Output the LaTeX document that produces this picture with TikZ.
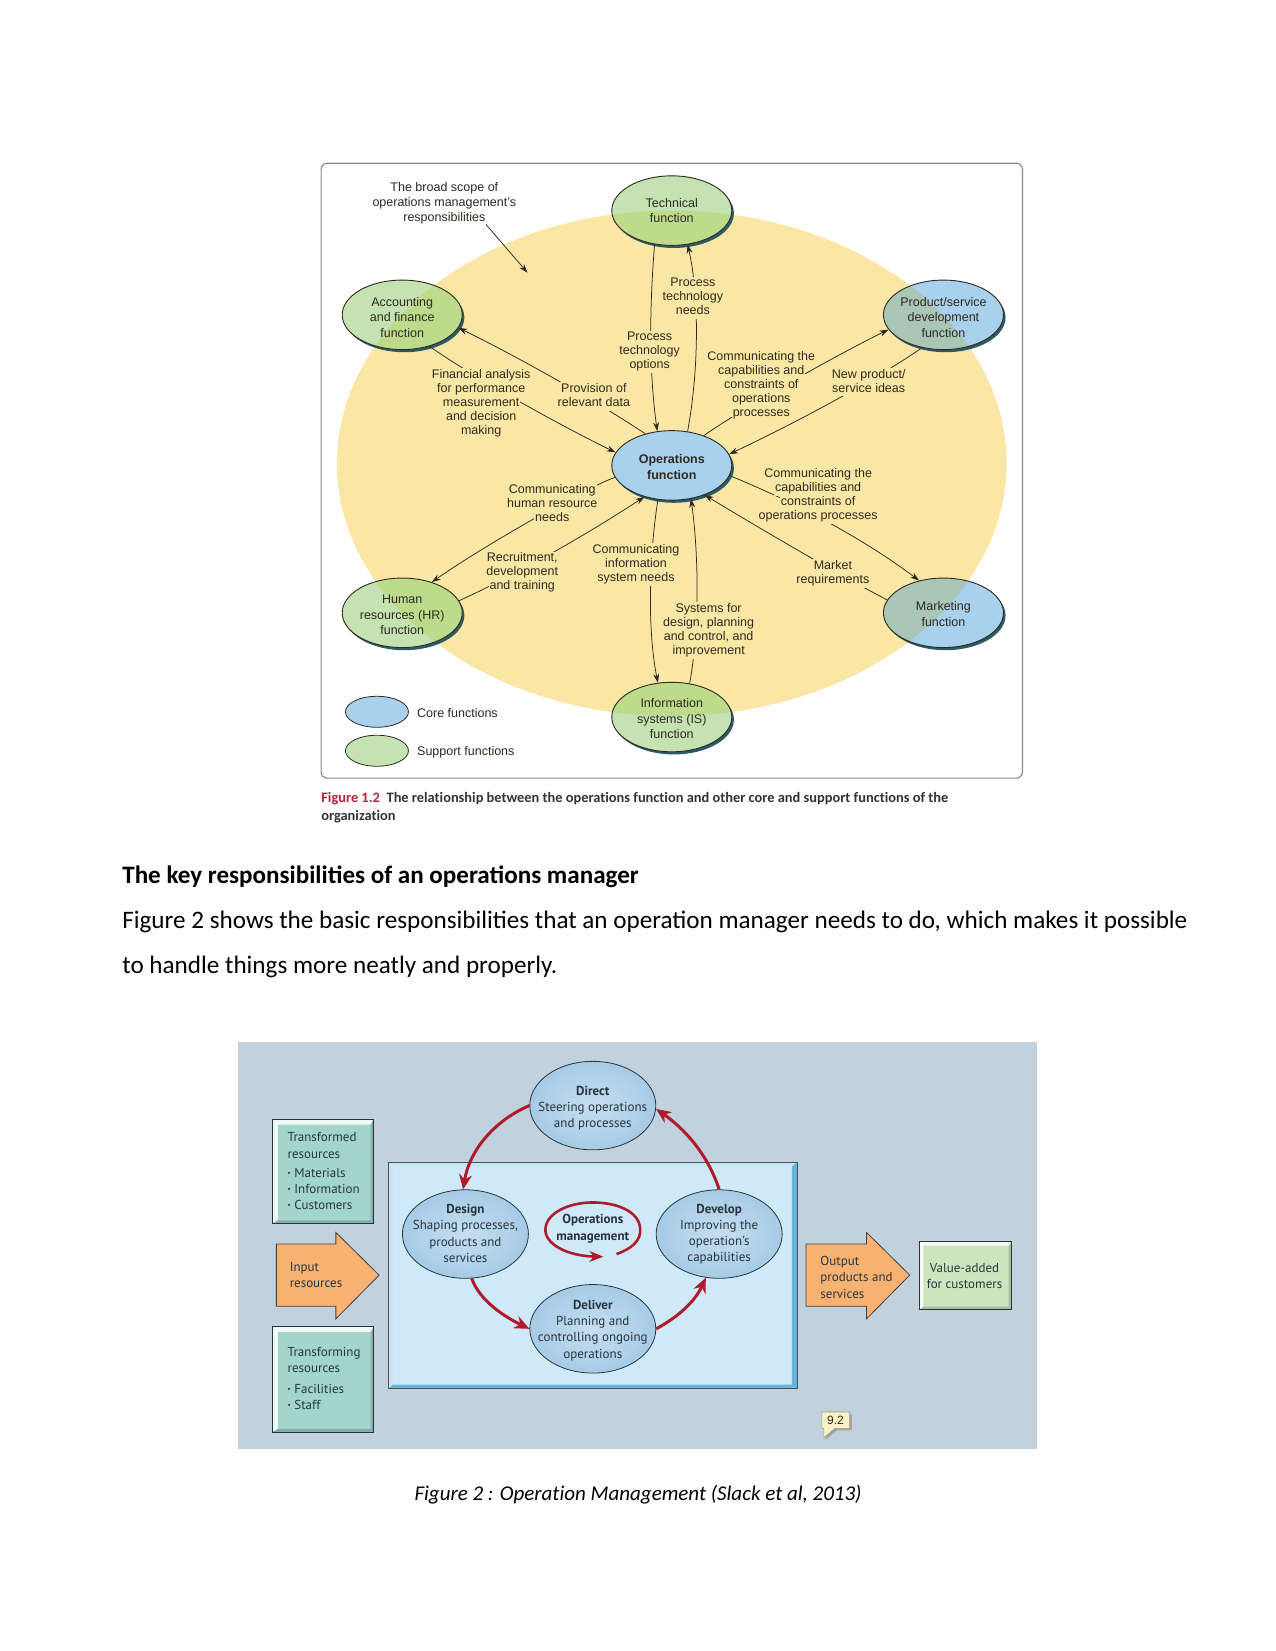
\documentclass[tikz,border=0pt]{standalone}
\usepackage{fontspec}
\setmainfont{Carlito}
\newfontfamily\helv{Liberation Sans}
\newfontfamily\myr{PT Sans}
\newfontfamily\capfont[Ligatures=NoCommon]{Carlito}
\usetikzlibrary{shapes.geometric,arrows.meta}
\definecolor{sunny}{HTML}{FBE7A5}
\definecolor{ink}{HTML}{2E2A20}
\definecolor{rimdark}{HTML}{2C5A66}
\definecolor{coreblue}{HTML}{A9D0EC}
\definecolor{coregrey}{HTML}{A9C6B6}
\definecolor{suppgreen}{HTML}{C5E2B2}
\definecolor{suppyellow}{HTML}{BEDB8C}
\definecolor{panel}{HTML}{C1D2DE}
\definecolor{sheet}{HTML}{D0E9F9}
\definecolor{sheetedge}{HTML}{65B6D9}
\definecolor{seafoam}{HTML}{A3D6CB}
\definecolor{mint}{HTML}{CDE6BE}
\definecolor{amber}{HTML}{FAB273}
\definecolor{crimson}{HTML}{AE1B2C}
\definecolor{slate}{HTML}{26343E}
\definecolor{capred}{HTML}{B5263A}
\definecolor{ovalin}{HTML}{C6DEF0}
\definecolor{ovalout}{HTML}{A6CBE5}
\definecolor{tagfill}{HTML}{FBF3C8}
\setlength{\fboxsep}{1pt}
% one label line on its own yellow strip, so connectors stop close to the words
\newcommand{\tl}[1]{\colorbox{sunny}{\rule[-3.4pt]{0pt}{12.2pt}#1}}
% lets the strips of neighbouring lines overlap a little
\newcommand{\tightlines}{\lineskiplimit=-2pt\relax}
\tikzset{
  funcoval/.style={ellipse,draw=ink,line width=.9pt,minimum width=120pt,minimum height=69.5pt,inner sep=0pt},
  funcname/.style={font=\helv\fontsize{12.5}{15.6}\selectfont,align=center,text=ink,inner sep=0pt},
  flowlabel/.style={font=\helv\fontsize{12.5}{14}\selectfont\tightlines,align=center,text=ink,inner sep=0pt},
  plainlabel/.style={font=\helv\fontsize{12.5}{15.2}\selectfont,align=center,text=ink,inner sep=0pt},
  link/.style={ink,line width=.75pt,-{Stealth[length=9pt,width=6pt]}},
  workoval/.style={ellipse,draw=slate,line width=.8pt,minimum width=126pt,minimum height=88.5pt,inner sep=0pt,
    inner color=ovalin,outer color=ovalout},
  worktext/.style={font=\myr\fontsize{13}{16.2}\selectfont,align=center,text=slate,inner sep=0pt},
  boxtext/.style={font=\myr\fontsize{13}{16.2}\selectfont,align=left,text=slate,inner sep=0pt,anchor=north west},
  redflow/.style={crimson,line width=3pt,-{Stealth[length=15pt,width=13pt]}},
  blockarrow/.style={fill=amber,draw=black!75,line width=.8pt,line join=miter},
}
% two-tone function oval: tint outside and inside the yellow field
\newcommand{\funcblob}[7]{%
  \fill[rimdark] (#2+2,#3+2.5) ellipse [x radius=57,y radius=33];
  \fill[#4] (#2,#3) ellipse [x radius=57,y radius=33];
  \begin{scope}
    \clip (638,440) ellipse [x radius=318,y radius=240];
    \fill[#5] (#2,#3) ellipse [x radius=57,y radius=33];
  \end{scope}
  \node[funcoval] (#1) at (#2,#3) {};
  \node[funcname] (#1t) at (#2,#3+#7) {#6};
}
% bevelled rectangle: corners, face, light edge, edge width
\newcommand{\bevelbox}[7]{%
  \fill[#5] (#1,#2) rectangle (#3,#4);
  \fill[#6] (#1,#2) -- (#3,#2) -- (#3-3,#2+#7) -- (#1+#7,#2+#7) -- (#1+#7,#4-3) -- (#1,#4) -- cycle;
  \fill[#5!82!black] (#3,#2) -- (#3,#4) -- (#1,#4) -- (#1+#7,#4-3) -- (#3-3,#4-3) -- (#3-3,#2+#7) -- cycle;
  \draw[slate,line width=.9pt] (#1,#2) rectangle (#3,#4);
}
\begin{document}
\begin{tikzpicture}[x=1.05285pt,y=-1.05285pt]
\useasboundingbox (0,0) rectangle (1211,1568);
\fill[white] (0,0) rectangle (1211,1568);

% upper figure: frame and yellow field
\draw[black!45,line width=1.2pt,rounded corners=6pt,fill=white] (305,155) rectangle (971,739);
\fill[sunny] (638,440) ellipse [x radius=318,y radius=240];

\funcblob{tech}{638}{200}{suppgreen}{suppyellow}{Technical\\function}{0}
\funcblob{acct}{382}{299}{suppgreen}{suppyellow}{Accounting\\and finance\\function}{2.5}
\funcblob{prod}{896}{299}{coreblue}{coregrey}{Product/service\\development\\function}{2.5}
\funcblob{hr}{382}{582}{suppgreen}{suppyellow}{Human\\resources (HR)\\function}{2}
\funcblob{mkt}{896}{582}{coreblue}{coregrey}{Marketing\\function}{1}
\funcblob{info}{638}{681}{suppgreen}{suppyellow}{Information\\systems (IS)\\function}{1.5}
\fill[rimdark] (640,444.5) ellipse [x radius=57,y radius=33];
\node[funcoval,fill=coreblue] (ops) at (638,442) {};
\node[funcname,font=\helv\bfseries\fontsize{12.5}{15.6}\selectfont] (opst) at (638,443.5) {Operations\\function};

% connectors, running behind their labels
\draw[link] (tech.243) .. controls (617,290) and (616,350) .. (ops.113);
\draw[link] (ops.65) .. controls (664,350) and (664,280) .. (tech.295);
\draw[link] (acct.-49) .. controls (440,352) and (520,398) .. (ops.167);
\draw[link] (ops.130) .. controls (565,380) and (490,338) .. (acct.-13);
\draw[link] (ops.43) .. controls (695,395) and (775,347) .. (prod.195);
\draw[link] (prod.237) .. controls (850,348) and (790,385) .. (ops.11);
\draw[link] (ops.192) .. controls (560,461) and (460,518) .. (hr.46);
\draw[link] (hr.12) .. controls (470,555) and (530,525) .. (ops.229);
\draw[link] (ops.-10) .. controls (750,475) and (815,508) .. (mkt.127);
\draw[link] (mkt.167) .. controls (825,561) and (760,525) .. (ops.-42);
\draw[link] (ops.248) .. controls (616,530) and (615,600) .. (info.112);
\draw[link] (info.62) .. controls (664,600) and (664,530) .. (ops.-60);

\node[flowlabel] (l1) at (658,283) {\tl{Process}\\\tl{technology}\\\tl{needs}};
\node[flowlabel] (l2) at (617,334) {\tl{Process}\\\tl{technology}\\\tl{options}};
\node[flowlabel] (l3) at (723,366) {\tl{Communicating the}\\\tl{capabilities and}\\\tl{constraints of}\\\tl{operations}\\\tl{processes}};
\node[flowlabel] (l4) at (825,363) {\tl{New product/}\\\tl{service ideas}};
\node[flowlabel] (l5) at (457,383) {\tl{Financial analysis}\\\tl{for performance}\\\tl{measurement}\\\tl{and decision}\\\tl{making}};
\node[flowlabel] (l6) at (564,376.5) {\tl{Provision of}\\\tl{relevant data}};
\node[flowlabel] (l7) at (524.5,479) {\tl{Communicating}\\\tl{human resource}\\\tl{needs}};
\node[flowlabel] (l8) at (496,544) {\tl{Recruitment,}\\\tl{development}\\\tl{and training}};
\node[flowlabel] (l9) at (604,536) {\tl{Communicating}\\\tl{information}\\\tl{system needs}};
\node[flowlabel] (l10) at (673,599) {\tl{Systems for}\\\tl{design, planning}\\\tl{and control, and}\\\tl{improvement}};
\node[flowlabel] (l11) at (791,544.5) {\tl{Market}\\\tl{requirements}};
\node[flowlabel] (l12) at (777,471) {\tl{Communicating the}\\\tl{capabilities and}\\\tl{constraints of}\\\tl{operations processes}};

\node[plainlabel] (scope) at (422,193) {The broad scope of\\operations management’s\\responsibilities};
\coordinate (scopetip) at (501,259);
\draw[link] (scope.-27) -- (scopetip);

% legend
\node[ellipse,draw=ink,line width=.8pt,fill=coreblue,minimum width=63pt,minimum height=31pt,inner sep=0pt] (keycore) at (358,676) {};
\node[ellipse,draw=ink,line width=.8pt,fill=suppgreen,minimum width=63pt,minimum height=31pt,inner sep=0pt] (keysupp) at (358,713) {};
\node[plainlabel,anchor=west] (keycoret) at (396,677) {Core functions};
\node[plainlabel,anchor=west] (keysuppt) at (396,714) {Support functions};

% upper figure caption
\node[anchor=base west,inner sep=0pt,font=\capfont\fontsize{14.4}{17}\selectfont\bfseries,text=capred] (cap1) at (305,762) {Figure 1.2};
\node[anchor=base west,inner sep=0pt,font=\capfont\fontsize{14.4}{17}\selectfont\bfseries,text=black!80] (cap2) at (367,762) {The relationship between the operations function and other core and support functions of the};
\node[anchor=base west,inner sep=0pt,font=\capfont\fontsize{14.4}{17}\selectfont\bfseries,text=black!80] (cap3) at (305,779) {organization};

% body text
\node[anchor=base west,inner sep=0pt,font=\fontsize{25.1}{30}\selectfont\bfseries] (head) at (116,839) {The key responsibilities of an operations manager};
\node[anchor=base west,inner sep=0pt,font=\fontsize{25.15}{30}\selectfont] (body1) at (116,882) {Figure 2 shows the basic responsibilities that an operation manager needs to do, which makes it possible};
\node[anchor=base west,inner sep=0pt,font=\fontsize{25.15}{30}\selectfont] (body2) at (116,925) {to handle things more neatly and properly.};

% lower figure: panel and central sheet
\fill[panel] (226,990) rectangle (985,1376);
\fill[sheet] (369,1104) rectangle (757,1319);
\fill[sheetedge!35!white] (369,1104) -- (757,1104) -- (752,1108) -- (373,1108) -- (373,1315) -- (369,1319) -- cycle;
\fill[sheetedge] (757,1104) -- (757,1319) -- (369,1319) -- (373,1315) -- (752,1315) -- (752,1108) -- cycle;
\draw[slate!85,line width=.9pt] (369,1104) rectangle (757,1319);

% resource boxes
\bevelbox{259}{1063}{355}{1162}{seafoam}{white!85!seafoam}{5}
\bevelbox{259}{1260}{355}{1360}{seafoam}{white!85!seafoam}{5}
\bevelbox{873}{1179}{961}{1244}{mint}{white!85!mint}{4}
\node[boxtext] (tfd) at (273,1075.5) {Transformed\\resources\\[2.8pt]{\bfseries·} Materials\\{\bfseries·} Information\\{\bfseries·} Customers};
\node[boxtext] (tfg) at (273,1279.5) {Transforming\\resources\\[4pt]{\bfseries·} Facilities\\{\bfseries·} Staff};
\node[worktext] (val) at (916,1211.5) {Value-added\\for customers};

% input and output block arrows
\draw[blockarrow] (262.5,1181.5) -- (319,1181.5) -- (319,1170.5) -- (360,1211) -- (319,1252.5) -- (319,1240.5) -- (262.5,1240.5) -- cycle;
\draw[blockarrow] (765.5,1181.5) -- (823,1181.5) -- (823,1170.5) -- (864,1211) -- (823,1252.5) -- (823,1240.5) -- (765.5,1240.5) -- cycle;
\node[boxtext] (inp) at (275,1199) {Input\\resources};
\node[boxtext] (outp) at (779,1193) {Output\\products and\\services};

% the four activity ovals and the red cycle
\node[workoval] (direct) at (563,1050) {};
\node[workoval] (design) at (442,1172) {};
\node[workoval] (develop) at (683,1172) {};
\node[workoval] (deliver) at (563,1262) {};
\node[worktext] (directt) at (563,1052.5) {\textbf{Direct}\\Steering operations\\and processes};
\node[worktext] (designt) at (442,1171.5) {\textbf{Design}\\Shaping processes,\\products and\\services};
\node[worktext] (developt) at (683,1172) {\textbf{Develop}\\Improving the\\operation’s\\capabilities};
\node[worktext] (delivert) at (563,1263.5) {\textbf{Deliver}\\Planning and\\controlling ongoing\\operations};

\draw[redflow] (direct.180) .. controls (470,1064) and (446,1092) .. (design.93);
\draw[redflow] (design.278) .. controls (456,1236) and (480,1251) .. (deliver.180);
\draw[redflow] (deliver.0) .. controls (645,1250) and (660,1236) .. (develop.253);
\draw[redflow] (develop.90) .. controls (672,1096) and (650,1072) .. (direct.-3);

\node[worktext,font=\myr\bfseries\fontsize{13}{16.2}\selectfont] (opm) at (563,1167) {Operations\\management};
\coordinate (ringa) at (585.5,1191);
\coordinate (ringb) at (573,1193.5);
\draw[crimson,line width=2.6pt,-{Stealth[length=14pt,width=11pt]}] (ringa) .. controls (600,1186) and (609,1178) .. (608,1167)
  .. controls (607,1150) and (585,1142) .. (563,1142)
  .. controls (540,1142) and (519,1152) .. (518,1167)
  .. controls (517,1182) and (540,1193) .. (ringb);

% small page tag
\fill[black!35] (782.5,1343) -- (809,1343) -- (809,1358.5) -- (795,1358.5) -- (784,1367.5) -- (784,1358.5) -- cycle;
\filldraw[fill=tagfill,draw=black!40,line width=.6pt] (780.5,1341) -- (807,1341) -- (807,1356.5) -- (793,1356.5) -- (782.5,1365.5) -- (782.5,1356.5) -- (780.5,1356.5) -- cycle;
\node[font=\helv\fontsize{12}{14}\selectfont,inner sep=0pt,text=ink] (tag) at (793.5,1349) {9.2};

% lower figure caption
\node[anchor=base,inner sep=0pt,font=\capfont\fontsize{21}{24}\selectfont\itshape] (cap4) at (606,1425) {Figure 2 : Operation Management (Slack et al, 2013)};
\end{tikzpicture}
\end{document}
